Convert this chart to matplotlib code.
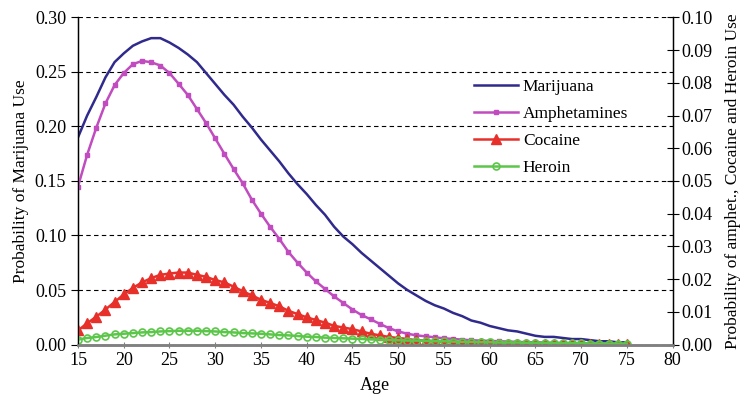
import matplotlib
matplotlib.use("Agg")
import matplotlib.pyplot as plt
from matplotlib.ticker import MultipleLocator, FormatStrFormatter

plt.rcParams['font.family'] = ['Liberation Serif', 'DejaVu Serif']

# ages 15..75
ages = list(range(15, 76))

# left axis
marijuana = [0.190, 0.210, 0.227, 0.245, 0.259, 0.267, 0.274, 0.278, 0.281, 0.281,
             0.277, 0.272, 0.266, 0.259, 0.249, 0.239, 0.229, 0.220, 0.209, 0.199,
             0.188, 0.178, 0.168, 0.157, 0.147, 0.138, 0.128, 0.119, 0.108, 0.099,
             0.092, 0.084, 0.077, 0.070, 0.063, 0.056, 0.050, 0.045, 0.040, 0.036,
             0.033, 0.029, 0.026, 0.022, 0.020, 0.017, 0.015, 0.013, 0.012, 0.010,
             0.008, 0.007, 0.007, 0.006, 0.005, 0.005, 0.004, 0.003, 0.003, 0.002,
             0.002]

# right axis
amphetamines = [0.0483, 0.0580, 0.0663, 0.0737, 0.0793, 0.0830, 0.0857, 0.0867, 0.0863, 0.0853,
                0.0830, 0.0797, 0.0763, 0.0720, 0.0677, 0.0630, 0.0583, 0.0537, 0.0493, 0.0443,
                0.0400, 0.0360, 0.0323, 0.0283, 0.0250, 0.0220, 0.0193, 0.0170, 0.0147, 0.0127,
                0.0107, 0.0090, 0.0077, 0.0063, 0.0050, 0.0040, 0.0033, 0.0028, 0.0025, 0.0022,
                0.0019, 0.0017, 0.0015, 0.0013, 0.0012, 0.0011, 0.0010, 0.0009, 0.0008, 0.0007,
                0.0007, 0.0006, 0.0005, 0.0005, 0.0004, 0.0004, 0.0003, 0.0003, 0.0003, 0.0002,
                0.0002]
cocaine = [0.0043, 0.0065, 0.0085, 0.0107, 0.0130, 0.0153, 0.0173, 0.0190, 0.0203, 0.0213,
           0.0217, 0.0220, 0.0220, 0.0213, 0.0207, 0.0197, 0.0190, 0.0177, 0.0163, 0.0150,
           0.0137, 0.0127, 0.0117, 0.0103, 0.0093, 0.0083, 0.0075, 0.0067, 0.0057, 0.0052,
           0.0047, 0.0040, 0.0033, 0.0028, 0.0023, 0.0020, 0.0017, 0.0013, 0.0012, 0.0010,
           0.0008, 0.0007, 0.0006, 0.0005, 0.0004, 0.0003, 0.0003, 0.0003, 0.0002, 0.0002,
           0.0002, 0.0002, 0.0001, 0.0001, 0.0001, 0.0001, 0.0001, 0.0001, 0.0001, 0.0001,
           0.0001]
heroin = [0.0015, 0.0020, 0.0023, 0.0027, 0.0031, 0.0033, 0.0035, 0.0037, 0.0038, 0.0040,
          0.0041, 0.0042, 0.0042, 0.0042, 0.0041, 0.0040, 0.0038, 0.0037, 0.0035, 0.0034,
          0.0033, 0.0031, 0.0029, 0.0028, 0.0026, 0.0024, 0.0023, 0.0021, 0.0020, 0.0019,
          0.0018, 0.0017, 0.0016, 0.0015, 0.0014, 0.0013, 0.0012, 0.0012, 0.0011, 0.0010,
          0.0010, 0.0009, 0.0008, 0.0008, 0.0007, 0.0007, 0.0006, 0.0006, 0.0006, 0.0005,
          0.0005, 0.0005, 0.0004, 0.0004, 0.0004, 0.0004, 0.0003, 0.0003, 0.0003, 0.0003,
          0.0003]

fig = plt.figure(figsize=(7.4, 3.96), dpi=100)
ax = fig.add_axes([0.1054, 0.130, 0.8036, 0.826])
ax2 = ax.twinx()

l1, = ax.plot(ages, marijuana, color='#2f2a8c', lw=1.8, label='Marijuana')
l2, = ax2.plot(ages, amphetamines, color='#c04cbf', lw=1.8, marker='s', ms=3.5,
               label='Amphetamines')
l3, = ax2.plot(ages, cocaine, color='#e8302a', lw=1.8, marker='^', ms=6.5,
               label='Cocaine')
l4, = ax2.plot(ages, heroin, color='#5cc64a', lw=1.8, marker='o', ms=5,
               mfc='none', mew=1.2, label='Heroin')

ax.set_xlim(15, 80)
ax.set_ylim(0, 0.30)
ax2.set_ylim(0, 0.10)
ax.xaxis.set_major_locator(MultipleLocator(5))
ax.yaxis.set_major_locator(MultipleLocator(0.05))
ax.yaxis.set_major_formatter(FormatStrFormatter('%.2f'))
ax2.yaxis.set_major_locator(MultipleLocator(0.01))
ax2.yaxis.set_major_formatter(FormatStrFormatter('%.2f'))

ax.grid(axis='y', color='black', ls=(0, (4, 3)), lw=0.8)
ax.set_axisbelow(True)

for a in (ax, ax2):
    a.spines['top'].set_visible(False)
    a.spines['bottom'].set_color('#808080')
    a.spines['bottom'].set_linewidth(1.8)
ax.spines['left'].set_linewidth(1.0)
ax2.spines['right'].set_linewidth(1.0)

ax.tick_params(axis='x', direction='inout', length=5, color='#808080', labelsize=13, pad=3)
ax.tick_params(axis='y', direction='out', length=5, labelsize=13)
ax2.tick_params(axis='y', direction='inout', length=8, labelsize=13, pad=2)

ax.set_xlabel('Age', fontsize=13, labelpad=6)
ax.set_ylabel('Probability of Marijuana Use', fontsize=12.5, labelpad=4)
ax2.set_ylabel('Probability of amphet., Cocaine and Heroin Use', fontsize=12.5, labelpad=9)

ax2.legend(handles=[l1, l2, l3, l4], loc='upper left', bbox_to_anchor=(0.64, 0.86),
           frameon=False, fontsize=12.5, handlelength=2.5, labelspacing=0.62,
           handletextpad=0.3)

fig.savefig('out.png', dpi=100)
